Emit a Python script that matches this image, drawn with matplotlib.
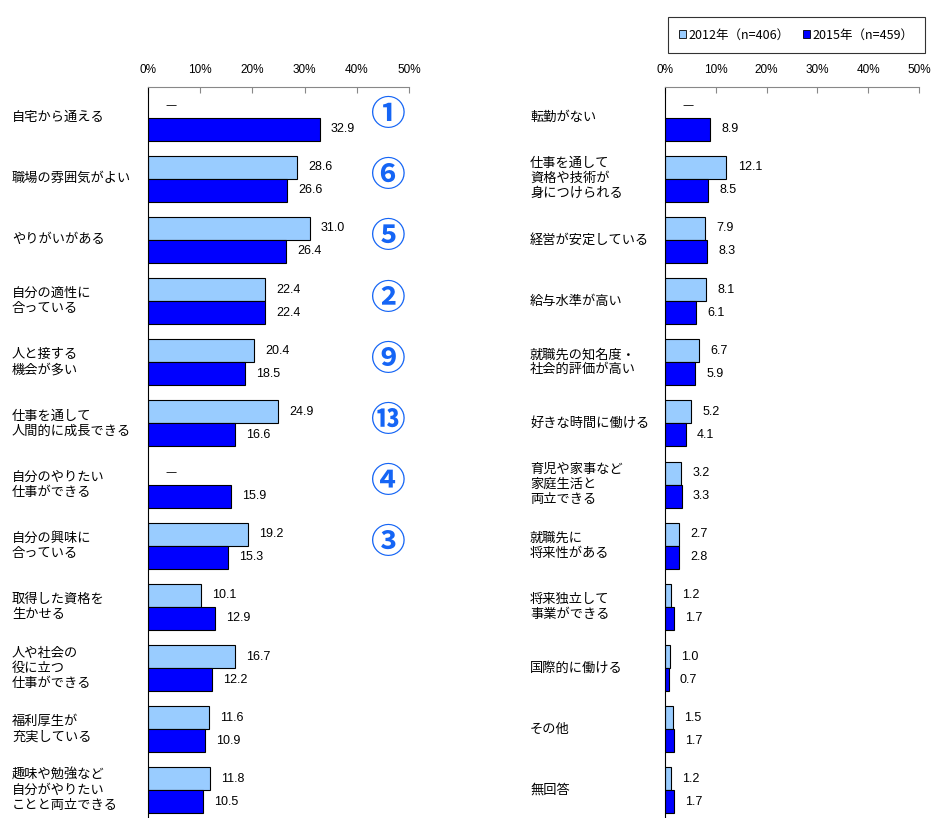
import numpy as np
import matplotlib.pyplot as plt
from matplotlib.patches import Patch
from matplotlib.transforms import blended_transform_factory

plt.rcParams['font.family'] = ['Noto Sans CJK JP', 'DejaVu Sans']

# 左側のデータ
cats_izq = ['自宅から通える', '職場の雰囲気がよい', 'やりがいがある', '自分の適性に\n合っている',
            '人と接する\n機会が多い', '仕事を通して\n人間的に成長できる', '自分のやりたい\n仕事ができる',
            '自分の興味に\n合っている', '取得した資格を\n生かせる', '人や社会の\n役に立つ\n仕事ができる',
            '福利厚生が\n充実している', '趣味や勉強など\n自分がやりたい\nことと両立できる']
v2012_izq = [None, 28.6, 31.0, 22.4, 20.4, 24.9, None, 19.2, 10.1, 16.7, 11.6, 11.8]
v2015_izq = [32.9, 26.6, 26.4, 22.4, 18.5, 16.6, 15.9, 15.3, 12.9, 12.2, 10.9, 10.5]
rangos = ['①', '⑥', '⑤', '②', '⑨', '⑬', '④', '③']

# 右側のデータ
cats_der = ['転勤がない', '仕事を通して\n資格や技術が\n身につけられる', '経営が安定している', '給与水準が高い',
            '就職先の知名度・\n社会的評価が高い', '好きな時間に働ける', '育児や家事など\n家庭生活と\n両立できる',
            '就職先に\n将来性がある', '将来独立して\n事業ができる', '国際的に働ける', 'その他', '無回答']
v2012_der = [None, 12.1, 7.9, 8.1, 6.7, 5.2, 3.2, 2.7, 1.2, 1.0, 1.5, 1.2]
v2015_der = [8.9, 8.5, 8.3, 6.1, 5.9, 4.1, 3.3, 2.8, 1.7, 0.7, 1.7, 1.7]

c2012 = '#99CCFF'
c2015 = '#0000FF'
W, H = 938, 818

fig = plt.figure(figsize=(W / 100, H / 100), dpi=100)


def panel(left_px, width_px, label_px, cats, a, b):
    top = 1 - 87 / H
    alto = 734 / H
    ax = fig.add_axes([left_px / W, top - alto, width_px / W, alto])
    ax.set_xlim(0, 50)
    ax.set_ylim(len(cats) - 0.5, -0.5)
    trans = blended_transform_factory(fig.transFigure, ax.transData)
    y = np.arange(len(cats))
    h = 0.375
    for i in y:
        if a[i] is None:
            ax.text(4.5, i - h / 2 - 0.02, '—', ha='center', va='center', fontsize=8,
                    family=['DejaVu Sans'])
        else:
            ax.barh(i - h / 2, a[i], height=h, color=c2012, edgecolor='black', linewidth=0.8)
            ax.annotate(f'{a[i]:.1f}', (a[i], i - h / 2), xytext=(8, 0), textcoords='offset points',
                        va='center', fontsize=9, family=['Liberation Sans'])
        ax.barh(i + h / 2, b[i], height=h, color=c2015, edgecolor='black', linewidth=0.8)
        ax.annotate(f'{b[i]:.1f}', (b[i], i + h / 2), xytext=(8, 0), textcoords='offset points',
                    va='center', fontsize=9, family=['Liberation Sans'])
        ax.text(label_px / W, i, cats[i], transform=trans, ha='left', va='center',
                fontsize=9.5, linespacing=1.2, clip_on=False)
    ax.set_xticks(range(0, 51, 10))
    ax.set_xticklabels([f'{t}%' for t in range(0, 51, 10)], fontsize=8.5, family=['Liberation Sans'])
    ax.xaxis.tick_top()
    ax.tick_params(axis='x', direction='in', length=4, pad=8, color='#888888')
    ax.set_yticks([])
    for s in ['right', 'bottom']:
        ax.spines[s].set_visible(False)
    ax.spines['left'].set_color('black')
    ax.spines['top'].set_color('#888888')
    return ax


ax1 = panel(148, 261, 12, cats_izq, v2012_izq, v2015_izq)
for i, r in enumerate(rangos):
    ax1.text(45.8, i - 0.05, r, ha='center', va='center', fontsize=25, color='#1565F5',
             fontweight='bold')

ax2 = panel(665, 254, 530, cats_der, v2012_der, v2015_der)

handles = [Patch(facecolor=c2012, edgecolor='black', linewidth=0.6),
           Patch(facecolor=c2015, edgecolor='black', linewidth=0.6)]
leg = fig.legend(handles, ['2012年（n=406）', '2015年（n=459）'], loc='upper right',
                 bbox_to_anchor=(931 / W, 1 - 11 / H), ncol=2, frameon=True, fancybox=False,
                 edgecolor='black', fontsize=9, handlelength=0.6, handleheight=0.6,
                 handletextpad=0.2, columnspacing=1.0, borderpad=0.9)
leg.get_frame().set_linewidth(0.8)

fig.savefig('out.png', dpi=100)
